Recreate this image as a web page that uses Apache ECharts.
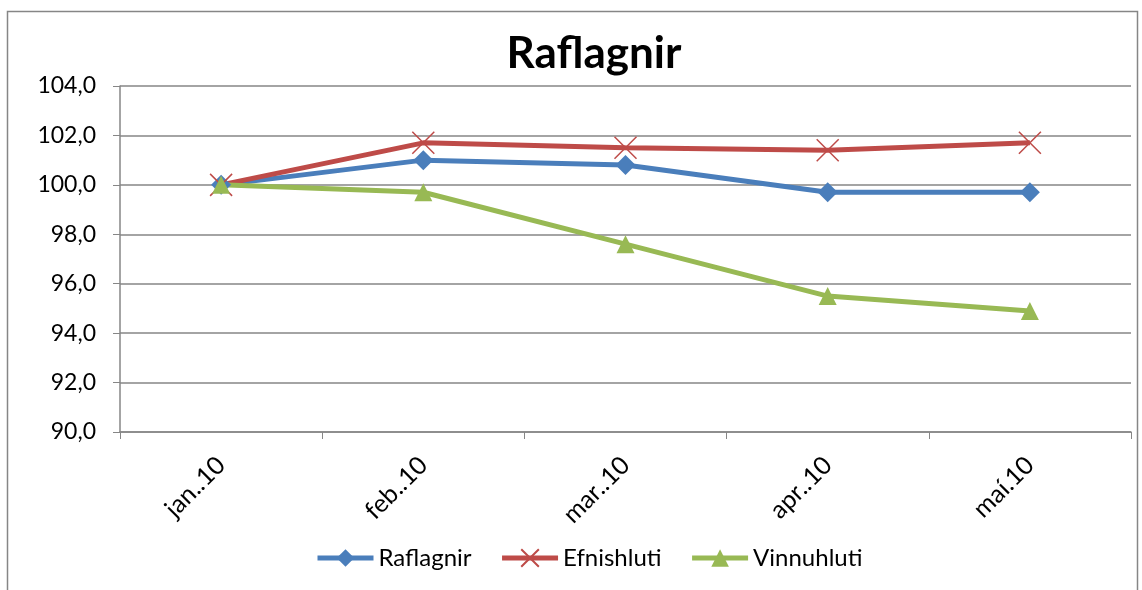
<!DOCTYPE html>
<html><head><meta charset="utf-8">
<script src="https://cdn.jsdelivr.net/npm/echarts@6/dist/echarts.min.js"></script>
<style>html,body{margin:0;padding:0;background:#fff}#c{width:1142px;height:590px}</style>
</head><body><div id="c"></div>
<script>
const categories = ['jan..10', 'feb..10', 'mar..10', 'apr..10', 'maí.10'];
const raflagnir = [100.0, 101.0, 100.8, 99.7, 99.7];
const efnishluti = [100.0, 101.7, 101.5, 101.4, 101.7];
const vinnuhluti = [100.0, 99.7, 97.6, 95.5, 94.9];
const yTicks = { min: 90, max: 104, interval: 2 };

const FONT = 'Lato, "Open Sans", sans-serif';
const chart = echarts.init(document.getElementById('c'));
function ser(name, data, color, symbol, size, extra) {
  return Object.assign({
    name, type: 'line', data, symbol, symbolSize: size,
    lineStyle: { color, width: 5 },
    itemStyle: { color },
    emphasis: { disabled: true }
  }, extra || {});
}
chart.setOption({
  animation: false,
  title: { text: 'Raflagnir', left: 589, top: 27, textAlign: 'center',
    textStyle: { fontFamily: FONT, fontWeight: 'bold', fontSize: 44, color: '#000' } },
  graphic: [{ type: 'rect', shape: { x: 7.5, y: 11.5, width: 1130, height: 600 },
    style: { fill: 'none', stroke: '#868686', lineWidth: 1.5 }, silent: true }],
  grid: { left: 120, right: 11, top: 86, bottom: 158, containLabel: false },
  legend: {
    bottom: 15, left: 310, itemGap: 28, itemWidth: 56, itemHeight: 22,
    lineStyle: { width: 5 },
    textStyle: { fontFamily: FONT, fontSize: 24, color: '#000' },
    data: ['Raflagnir', 'Efnishluti', 'Vinnuhluti']
  },
  xAxis: {
    type: 'category', data: categories, boundaryGap: true,
    axisLine: { lineStyle: { color: '#868686', width: 1.5 } },
    axisTick: { show: true, length: 7, lineStyle: { color: '#868686' } },
    axisLabel: { rotate: 45, margin: 29, fontFamily: FONT, fontSize: 25, color: '#000' }
  },
  yAxis: {
    type: 'value', min: yTicks.min, max: yTicks.max, interval: yTicks.interval,
    axisLine: { show: true, lineStyle: { color: '#868686', width: 1.5 } },
    axisTick: { show: true, length: 7, lineStyle: { color: '#868686' } },
    splitLine: { lineStyle: { color: '#868686', width: 1.5 } },
    axisLabel: { margin: 24, fontFamily: FONT, fontSize: 23, color: '#000',
      formatter: v => v.toFixed(1).replace('.', ',') }
  },
  series: [
    ser('Raflagnir', raflagnir, '#4a7ebb', 'diamond', 20),
    ser('Efnishluti', efnishluti, '#be4b48', 'path://M0,0 L2,2 M2,0 L0,2', 22,
      { itemStyle: { color: 'none', borderColor: '#be4b48', borderWidth: 1.5 } }),
    ser('Vinnuhluti', vinnuhluti, '#98b954', 'triangle', 18)
  ]
});
</script></body></html>
